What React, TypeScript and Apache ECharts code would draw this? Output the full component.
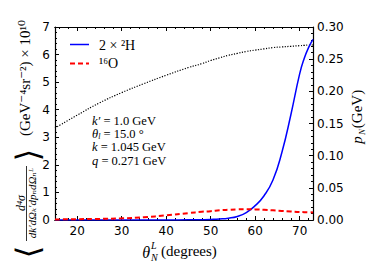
import React, { useEffect, useRef } from "react";
import * as echarts from "echarts";

const thetaDeg = [15, 20, 25, 30, 35, 40, 45, 48, 50, 52, 54, 56, 58, 60, 62, 64, 66, 68, 70, 71, 72, 73];
const deuteron = [0, 0, 0, 0, 0, 0.002, 0.006, 0.012, 0.02, 0.035, 0.065, 0.13, 0.27, 0.52, 0.88, 1.45, 2.45, 3.8, 5.3, 5.85, 6.25, 6.55];
const oxygen = [0.02, 0.03, 0.04, 0.06, 0.1, 0.17, 0.25, 0.3, 0.32, 0.35, 0.37, 0.385, 0.39, 0.385, 0.37, 0.35, 0.33, 0.31, 0.29, 0.285, 0.28, 0.275];
const pN = [0.143, 0.163, 0.182, 0.198, 0.212, 0.225, 0.237, 0.243, 0.248, 0.252, 0.256, 0.259, 0.262, 0.264, 0.266, 0.268, 0.269, 0.27, 0.271, 0.2715, 0.272, 0.272];

const xMajor = [20, 30, 40, 50, 60, 70];
const xMinor = [16, 18, 22, 24, 26, 28, 32, 34, 36, 38, 42, 44, 46, 48, 52, 54, 56, 58, 62, 64, 66, 68, 72];

const seriesNames = ["2 × ²H", "¹⁶O"];
const notes = [
  ["k′", " = 1.0 GeV"],
  ["θ", "l", " = 15.0 °"],
  ["k", " = 1.045 GeV"],
  ["q", " = 0.271 GeV"],
];

const SERIF = "Liberation Serif, DejaVu Serif, serif";
const SANS = "DejaVu Sans, sans-serif";

export default function App() {
  const ref = useRef<HTMLDivElement>(null);
  useEffect(() => {
    const chart = echarts.init(ref.current!, null, { renderer: "svg" });
    const xRange = { min: 15, max: 73 };
    const baseX = {
      type: "value",
      ...xRange,
      splitLine: { show: false },
      axisLine: { show: true, lineStyle: { color: "#000", width: 1.2 } },
    };
    const option: any = {
      animation: false,
      backgroundColor: "#fff",
      grid: { left: 55, right: 56, top: 27, bottom: 57, containLabel: false },
      xAxis: [
        {
          ...baseX,
          position: "bottom",
          axisTick: { show: true, inside: true, length: 4, customValues: xMajor, lineStyle: { color: "#000" } },
          axisLabel: { customValues: xMajor, color: "#000", fontSize: 12, fontFamily: SANS, margin: 5 },
        },
        {
          ...baseX,
          position: "bottom",
          axisTick: { show: true, inside: true, length: 2, customValues: xMinor, lineStyle: { color: "#000" } },
          axisLabel: { show: false },
        },
        {
          ...baseX,
          position: "top",
          axisTick: { show: true, inside: true, length: 4, customValues: xMajor, lineStyle: { color: "#000" } },
          axisLabel: { show: false },
        },
        {
          ...baseX,
          position: "top",
          axisTick: { show: true, inside: true, length: 2, customValues: xMinor, lineStyle: { color: "#000" } },
          axisLabel: { show: false },
        },
      ],
      yAxis: [
        {
          type: "value",
          min: 0,
          max: 7,
          interval: 1,
          position: "left",
          splitLine: { show: false },
          axisLine: { show: true, lineStyle: { color: "#000", width: 1.2 } },
          axisTick: { show: true, inside: true, length: 4, lineStyle: { color: "#000" } },
          minorTick: { show: true, splitNumber: 5, length: 2, lineStyle: { color: "#000" } },
          axisLabel: { color: "#000", fontSize: 12, fontFamily: SANS, margin: 5 },
        },
        {
          type: "value",
          min: 0,
          max: 0.3,
          interval: 0.05,
          position: "right",
          splitLine: { show: false },
          axisLine: { show: true, lineStyle: { color: "#000", width: 1.2 } },
          axisTick: { show: true, inside: true, length: 4, lineStyle: { color: "#000" } },
          minorTick: { show: true, splitNumber: 5, length: 2, lineStyle: { color: "#000" } },
          axisLabel: { color: "#000", fontSize: 12, fontFamily: SANS, margin: 4, formatter: (v: number) => v.toFixed(2) },
        },
      ],
      series: [
        {
          name: seriesNames[0],
          type: "line",
          xAxisIndex: 0,
          yAxisIndex: 0,
          symbol: "none",
          smooth: true,
          data: thetaDeg.map((t, i) => [t, deuteron[i]]),
          lineStyle: { color: "#0000ff", width: 1.5 },
          itemStyle: { color: "#0000ff" },
          z: 3,
        },
        {
          name: seriesNames[1],
          type: "line",
          xAxisIndex: 0,
          yAxisIndex: 0,
          symbol: "none",
          smooth: true,
          data: thetaDeg.map((t, i) => [t, oxygen[i]]),
          lineStyle: { color: "#ff0000", width: 2, type: [5, 3] },
          itemStyle: { color: "#ff0000" },
          z: 4,
        },
        {
          name: "pN",
          type: "line",
          xAxisIndex: 0,
          yAxisIndex: 1,
          symbol: "none",
          smooth: true,
          data: thetaDeg.map((t, i) => [t, pN[i]]),
          lineStyle: { color: "#000", width: 1.2, type: [1.2, 1.5] },
          itemStyle: { color: "#000" },
          z: 2,
        },
      ],
      graphic: [
        // legend
        { type: "line", shape: { x1: 70, y1: 44.5, x2: 89, y2: 44.5 }, style: { stroke: "#0000ff", lineWidth: 1.5 } },
        { type: "line", shape: { x1: 70, y1: 63.5, x2: 89, y2: 63.5 }, style: { stroke: "#ff0000", lineWidth: 2, lineDash: [5, 3] } },
        { type: "text", x: 99, y: 45, style: { text: seriesNames[0], font: `14px ${SERIF}`, fill: "#000", align: "left", verticalAlign: "middle" } },
        { type: "text", x: 99, y: 63, style: { text: seriesNames[1], font: `14px ${SERIF}`, fill: "#000", align: "left", verticalAlign: "middle" } },
        ...notes.map((n, i) => {
          const hasSub = n.length === 3;
          return {
            type: "text",
            x: 92,
            y: 121 + i * 13.2,
            style: {
              text: hasSub ? `{i|${n[0]}}{s|${n[1]}}{r|${n[2]}}` : `{i|${n[0]}}{r|${n[1]}}`,
              verticalAlign: "middle",
              rich: {
                i: { fontFamily: SERIF, fontStyle: "italic", fontSize: 12.5, lineHeight: 12, fill: "#000" },
                s: { fontFamily: SERIF, fontStyle: "italic", fontSize: 8, lineHeight: 12, fill: "#000", verticalAlign: "bottom" },
                r: { fontFamily: SERIF, fontSize: 12.5, lineHeight: 12, fill: "#000" },
              },
            },
          };
        }),
        // x-axis label
        { type: "text", x: 150, y: 252, style: { text: "θ", font: `italic 16px ${SERIF}`, fill: "#000", align: "right", verticalAlign: "middle" } },
        { type: "text", x: 151, y: 245, style: { text: "L", font: `italic 10px ${SERIF}`, fill: "#000", align: "left", verticalAlign: "middle" } },
        { type: "text", x: 151, y: 257, style: { text: "N", font: `italic 10px ${SERIF}`, fill: "#000", align: "left", verticalAlign: "middle" } },
        { type: "text", x: 161, y: 251, style: { text: "(degrees)", font: `15px ${SERIF}`, fill: "#000", align: "left", verticalAlign: "middle" } },
        // right axis label
        { type: "text", x: 357, y: 140, rotation: Math.PI / 2, style: { text: "p", font: `italic 15px ${SERIF}`, fill: "#000", align: "center", verticalAlign: "middle" } },
        { type: "text", x: 362, y: 132, rotation: Math.PI / 2, style: { text: "N", font: `italic 9px ${SERIF}`, fill: "#000", align: "center", verticalAlign: "middle" } },
        { type: "text", x: 357, y: 109, rotation: Math.PI / 2, style: { text: "(GeV)", font: `15px ${SERIF}`, fill: "#000", align: "center", verticalAlign: "middle" } },
        // left axis label
        { type: "text", x: 28, y: 252, rotation: Math.PI / 2, style: { text: "⟨", font: `32px ${SERIF}`, fill: "#000", align: "center", verticalAlign: "middle" } },
        { type: "text", x: 28, y: 155, rotation: Math.PI / 2, style: { text: "⟩", font: `32px ${SERIF}`, fill: "#000", align: "center", verticalAlign: "middle" } },
        { type: "text", x: 21, y: 203, rotation: Math.PI / 2, style: { text: "d⁴σ", font: `italic 12px ${SERIF}`, fill: "#000", align: "center", verticalAlign: "middle" } },
        { type: "line", shape: { x1: 26.5, y1: 166, x2: 26.5, y2: 241 }, style: { stroke: "#000", lineWidth: 0.8 } },
        { type: "text", x: 32, y: 203, rotation: Math.PI / 2, style: { text: "dk′dΩₖ′dpₙdΩₙᴸ", font: `italic 11px ${SERIF}`, fill: "#000", align: "center", verticalAlign: "middle" } },
        { type: "text", x: 25, y: 78, rotation: Math.PI / 2, style: { text: "(GeV⁻⁴sr⁻²) × 10¹⁰", font: `15px ${SERIF}`, fill: "#000", align: "center", verticalAlign: "middle" } },
      ],
    };
    chart.setOption(option);
    return () => chart.dispose();
  }, []);
  return <div ref={ref} style={{ width: 369, height: 277, position: "absolute", left: 0, top: 0 }} />;
}
